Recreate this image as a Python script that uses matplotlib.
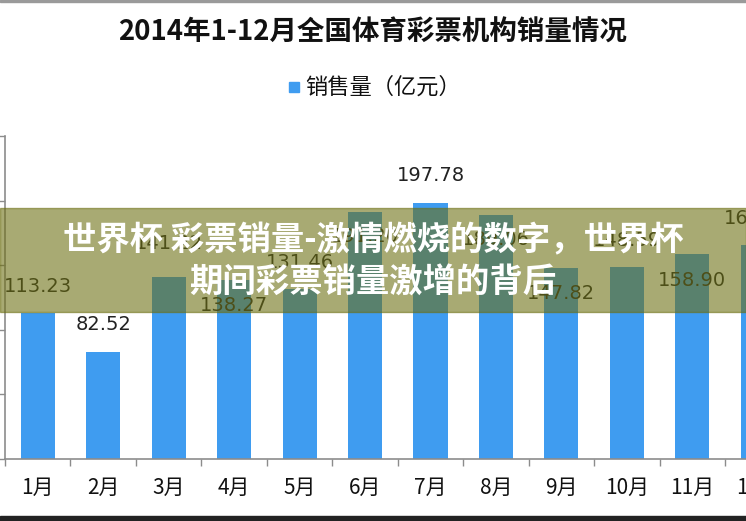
import matplotlib
matplotlib.use("Agg")
import matplotlib.pyplot as plt
from matplotlib.patches import Rectangle

plt.rcParams['font.family'] = ['Noto Sans CJK SC', 'DejaVu Sans']

months = ["1月", "2月", "3月", "4月", "5月", "6月", "7月", "8月", "9月", "10月", "11月", "12月"]
sales = [113.23, 82.52, 141.22, 138.27, 131.46, 191.20, 197.78, 189.06, 147.82, 148.59, 158.90, 165.62]
# label offset in points from the bar top (the source puts some labels inside the bar)
label_dy = [19, 20, 24, -18, 19, -18, 20, -18, -18, 19, -19, 19]

title = "2014年1-12月全国体育彩票机构销量情况"
legend_text = "销售量（亿元）"
banner1 = "世界杯 彩票销量-激情燃烧的数字，世界杯"
banner2 = "期间彩票销量激增的背后"

W, H = 746, 521
fig = plt.figure(figsize=(W / 100, H / 100), dpi=100)

ax = fig.add_axes([5 / W, 62 / H, 741 / W, 323 / H])
x = list(range(len(months)))
ax.bar(x, sales, width=0.52, color="#3f9cf0", zorder=2)

ax.set_yticks([0, 50, 100, 150, 200, 250])
ax.set_yticklabels([])
ax.tick_params(axis="y", length=5, color="#8c8c8c", width=1)
ax.set_xticks([i - 0.5 for i in range(len(months) + 1)])
ax.set_xticklabels([])
ax.tick_params(axis="x", length=5, color="#8c8c8c", width=1)
ax.set_xlim(-0.5, 10.82)
ax.set_ylim(0, 250)

for xi, v, dy in zip(x, sales, label_dy):
    ax.annotate(f"{v:.2f}", (xi, v), xytext=(0, dy), textcoords="offset points",
                ha="center", va="center", fontsize=14, color="#222222",
                family="DejaVu Sans", annotation_clip=False)

for s in ["top", "right"]:
    ax.spines[s].set_visible(False)
for s in ["left", "bottom"]:
    ax.spines[s].set_color("#8c8c8c")
    ax.spines[s].set_linewidth(1.2)

for xi, m in zip(x, months):
    ax.text(xi, -22, m, ha="center", va="center", fontsize=15, color="#111111",
            clip_on=False)

# title and legend
fig.text(0.5, 1 - 33 / H, title, ha="center", va="center", fontsize=19.8,
         fontweight="heavy", color="#111111")
fig.patches.append(Rectangle((289 / W, 1 - 92 / H), 10 / W, 10 / H,
                             transform=fig.transFigure, color="#3f9cf0"))
fig.text(305 / W, 1 - 87 / H, legend_text, ha="left", va="center", fontsize=16,
         color="#111111")

# overlay banner
fig.patches.append(Rectangle((0, 1 - 312 / H), 1, 104 / H, transform=fig.transFigure,
                             color=(108 / 255, 111 / 255, 18 / 255), alpha=0.59, zorder=5))
fig.text(0.5, 1 - 241 / H, banner1, ha="center", va="center", fontsize=24,
         fontweight="heavy", color="white", zorder=6)
fig.text(0.5, 1 - 283 / H, banner2, ha="center", va="center", fontsize=24,
         fontweight="heavy", color="white", zorder=6)

# frame strips
fig.patches.append(Rectangle((0, 0), 1, 5 / H, transform=fig.transFigure, color="#222222"))
fig.patches.append(Rectangle((0, 1 - 2 / H), 1, 2 / H, transform=fig.transFigure, color="#9a9a9a"))

fig.savefig("out.png", dpi=100)
